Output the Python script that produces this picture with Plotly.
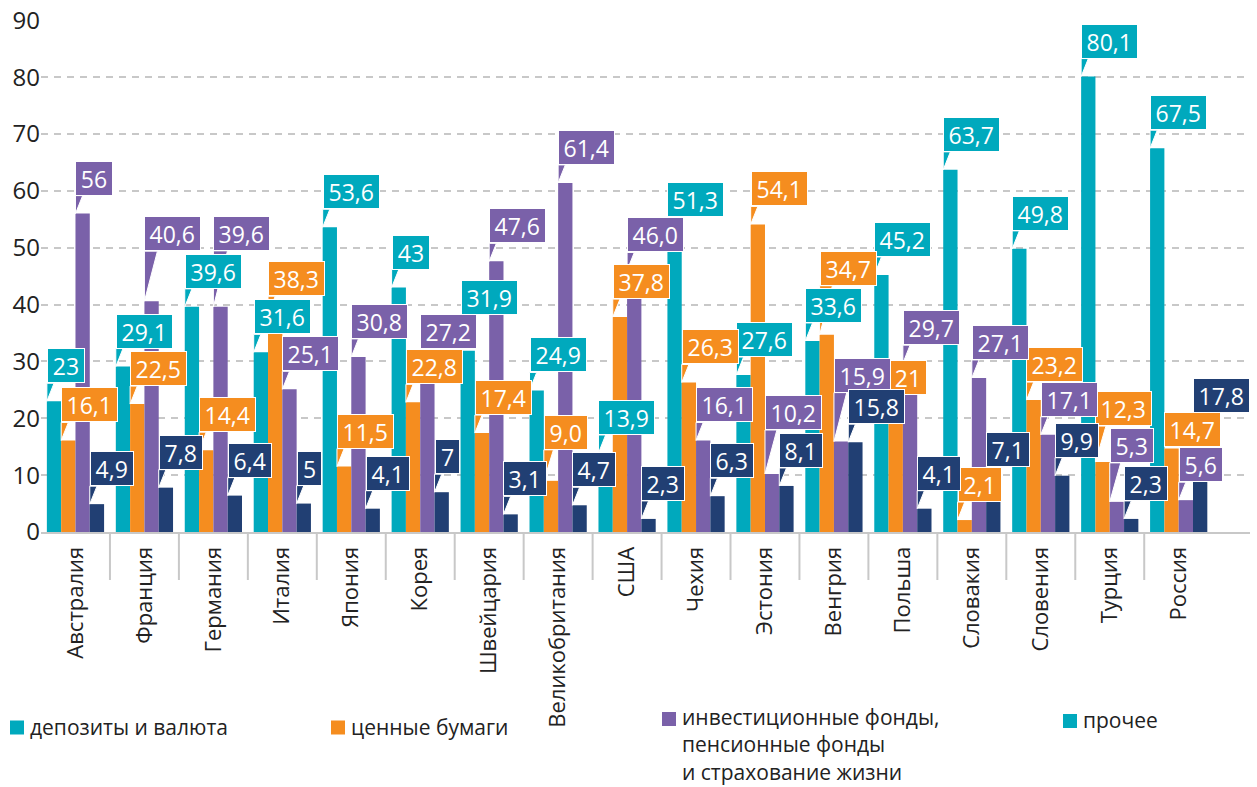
import plotly.graph_objects as go

# values as printed on the chart (per cent)
countries = ['Австралия', 'Франция', 'Германия', 'Италия', 'Япония', 'Корея',
             'Швейцария', 'Великобритания', 'США', 'Чехия', 'Эстония', 'Венгрия',
             'Польша', 'Словакия', 'Словения', 'Турция', 'Россия']
deposits = ['23', '29,1', '39,6', '31,6', '53,6', '43', '31,9', '24,9', '13,9',
            '51,3', '27,6', '33,6', '45,2', '63,7', '49,8', '80,1', '67,5']
securities = ['16,1', '22,5', '14,4', '38,3', '11,5', '22,8', '17,4', '9,0', '37,8',
              '26,3', '54,1', '34,7', '21', '2,1', '23,2', '12,3', '14,7']
funds = ['56', '40,6', '39,6', '25,1', '30,8', '27,2', '47,6', '61,4', '46,0',
         '16,1', '10,2', '15,9', '29,7', '27,1', '17,1', '5,3', '5,6']
other = ['4,9', '7,8', '6,4', '5', '4,1', '7', '3,1', '4,7', '2,3',
         '6,3', '8,1', '15,8', '4,1', '7,1', '9,9', '2,3', '17,8']
y_ticks = [0, 10, 20, 30, 40, 50, 60, 70, 80, 90]

series = [deposits, securities, funds, other]
names = ['депозиты и валюта', 'ценные бумаги',
         'инвестиционные фонды, пенсионные фонды и страхование жизни', 'прочее']
colors = ['#00A9BD', '#F58D1F', '#7A61A9', '#213F73']
FONT = 'Open Sans'

# label callouts that were moved by hand in the original (extra px up, px sideways)
label_moves = {
    (1, 2): (32, 0), (2, 2): (38, 0), (5, 2): (10, 0), (6, 0): (18, 0),
    (7, 1): (13, 0), (9, 0): (5, 0), (10, 2): (26, 0), (11, 1): (31, 0),
    (11, 2): (31, 0), (13, 3): (7, 0), (15, 1): (18, 0), (15, 2): (21, 0),
    (16, 1): (-17, 0),
}

W, H = 1257, 787
L, R, T, B = 41, 7, 20, 255
PW, PH = W - L - R, H - T - B


def px2x(px):
    return (px - L) / PW


def py2y(py):
    return (H - B - py) / PH


def num(s):
    return float(s.replace(',', '.'))


def text_w(s):
    return sum(5.5 if ch == ',' else 13.0 for ch in s)


fig = go.Figure()
for name, vals, col in zip(names, series, colors):
    fig.add_trace(go.Bar(
        x=countries, y=[num(v) for v in vals], name=name,
        marker=dict(color=col, line=dict(width=0)), showlegend=False
    ))

bargap = 0.17
bw = (1 - bargap) / 4
shapes = []
annotations = []
GAP = 18
for j, (vals, col) in enumerate(zip(series, colors)):
    for i, s in enumerate(vals):
        v = num(s)
        x_left = i - 0.5 + bargap / 2 + j * bw
        up, side = label_moves.get((i, j), (0, 0))
        g = GAP + up
        if g > 2:
            w = 4 + 0.18 * g
            shapes.append(dict(
                type='path', xref='x', yref='y', xsizemode='pixel', ysizemode='pixel',
                xanchor=x_left, yanchor=v,
                path=f'M 0,0 L 0,{g} L {w:.1f},{g} Z',
                fillcolor=col, line=dict(color='white', width=1), layer='above'
            ))
        annotations.append(dict(
            x=x_left, y=v, xref='x', yref='y', xanchor='left', yanchor='bottom',
            xshift=side, yshift=g, text=s, showarrow=False,
            width=text_w(s) + 10, height=33, align='center', valign='middle',
            bgcolor=col, bordercolor='white', borderwidth=1, borderpad=0,
            font=dict(family=FONT, size=23, color='white')
        ))

# separators between the countries below the axis
for i in range(len(countries) - 1):
    shapes.append(dict(
        type='line', xref='x', yref='paper', x0=i + 0.5, x1=i + 0.5,
        y0=0, y1=-48 / PH, line=dict(color='#c8c8c8', width=2)
    ))

# legend drawn by hand (the last marker is teal in the original)
legend_items = [
    (10, 727.5, 727.5, colors[0], 'депозиты и валюта'),
    (331, 727.5, 727.5, colors[1], 'ценные бумаги'),
    (662, 719, 745, colors[2], 'инвестиционные фонды,<br>пенсионные фонды<br>и страхование жизни'),
    (1063, 721, 721, colors[0], 'прочее'),
]
for lx, my, ty, col, text in legend_items:
    shapes.append(dict(
        type='rect', xref='paper', yref='paper',
        x0=px2x(lx), x1=px2x(lx + 14), y0=py2y(my - 7), y1=py2y(my + 7),
        fillcolor=col, line=dict(width=0)
    ))
    annotations.append(dict(
        x=px2x(lx + 18), y=py2y(ty - 1), xref='paper', yref='paper',
        xanchor='left', yanchor='middle', align='left', text=text, showarrow=False,
        font=dict(family=FONT, size=21, color='#222222')
    ))

fig.update_layout(
    width=W, height=H,
    margin=dict(l=L, r=R, t=T, b=B, autoexpand=False),
    paper_bgcolor='white', plot_bgcolor='white',
    barmode='group', bargap=bargap, bargroupgap=0,
    font=dict(family=FONT, size=22, color='#222222'),
    shapes=shapes, annotations=annotations,
    showlegend=False, hovermode=False,
)
fig.update_xaxes(
    type='category', showline=True, linecolor='#c8c8c8', linewidth=2,
    ticks='', tickangle=-90, tickfont=dict(size=22, color='#222222'),
    showgrid=False, ticklabelstandoff=4, automargin=False
)
fig.update_yaxes(
    range=[0, 90.05], tickvals=y_ticks, showgrid=True, gridcolor='#c8c8c8',
    gridwidth=2, griddash='7px,6px', zeroline=False, showline=False,
    tickfont=dict(size=24, color='#222222'), ticks='', automargin=False,
    ticklabeloverflow='allow'
)

# drop the default page margin so the figure fills the window
fig.write_html('out.html', config={'displayModeBar': False},
               post_script="document.body.style.margin='0';")
